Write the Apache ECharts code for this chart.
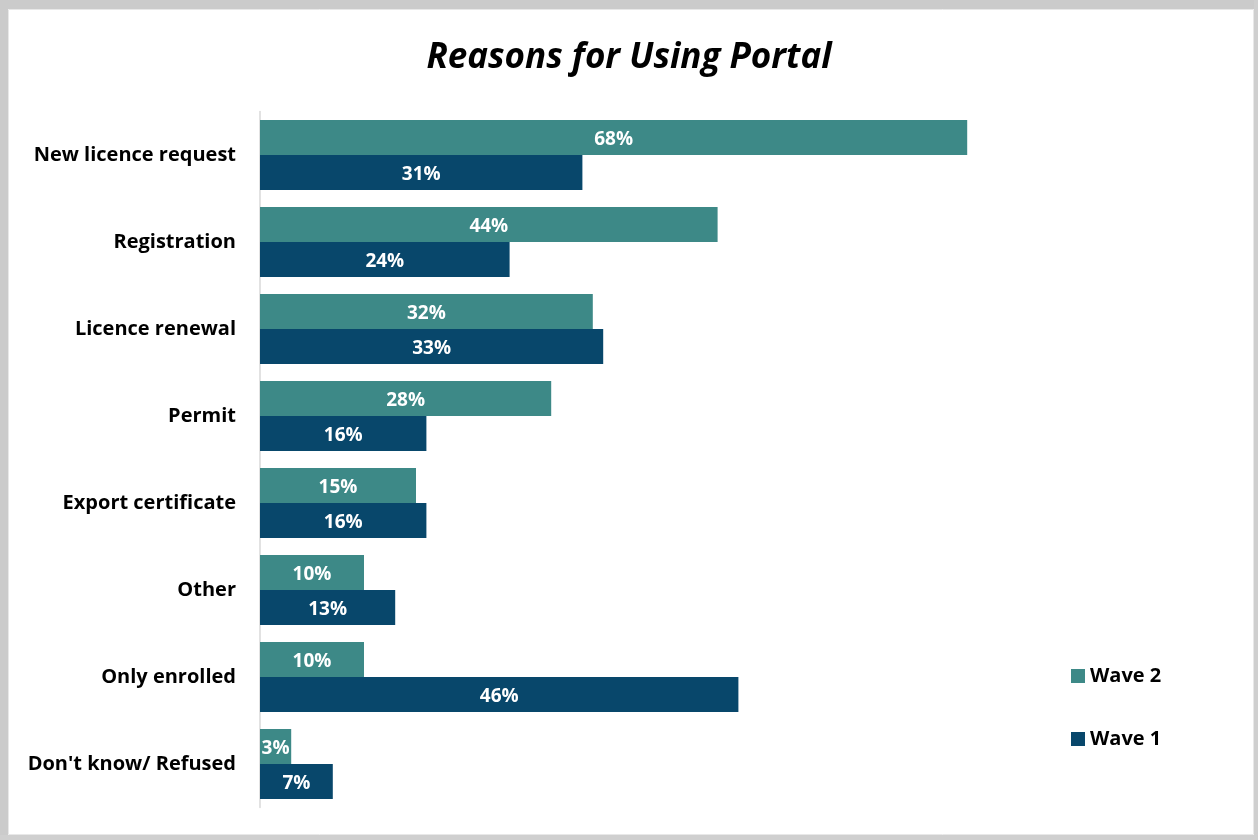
<!DOCTYPE html>
<html>
<head>
<meta charset="utf-8">
<script src="https://cdn.jsdelivr.net/npm/echarts@6/dist/echarts.min.js"></script>
<style>
  html, body { margin: 0; padding: 0; background: #ffffff; }
  #chart { width: 1258px; height: 840px; }
</style>
</head>
<body>
<div id="chart"></div>
<script>
// Reasons for using the portal, share of respondents (%) per survey wave
const categories = [
  'New licence request',
  'Registration',
  'Licence renewal',
  'Permit',
  'Export certificate',
  'Other',
  'Only enrolled',
  "Don't know/ Refused"
];
const wave2 = [68, 44, 32, 28, 15, 10, 10, 3];
const wave1 = [31, 24, 33, 16, 16, 13, 46, 7];
const seriesNames = ['Wave 2', 'Wave 1'];

const FONT = '"Open Sans"';
const chart = echarts.init(document.getElementById('chart'));

const labelStyle = {
  show: true,
  position: 'inside',
  offset: [0, 2],
  color: '#ffffff',
  fontFamily: FONT,
  fontWeight: 'bold',
  fontSize: 19,
  formatter: p => p.value + '%'
};

chart.setOption({
  backgroundColor: '#ffffff',
  animation: false,
  title: {
    text: 'Reasons for Using Portal',
    left: 'center',
    top: 36,
    textStyle: {
      fontFamily: FONT,
      fontStyle: 'italic',
      fontWeight: 'bold',
      fontSize: 35,
      color: '#000000'
    }
  },
  legend: {
    orient: 'vertical',
    left: 1066,
    top: 660,
    itemWidth: 14,
    itemHeight: 14,
    itemGap: 41,
    icon: 'rect',
    data: seriesNames,
    textStyle: {
      fontFamily: FONT,
      fontWeight: 'bold',
      fontSize: 20,
      lineHeight: 22,
      color: '#000000'
    }
  },
  grid: {
    left: 260,
    right: 218,
    top: 111.5,
    bottom: 32.5,
    containLabel: false
  },
  xAxis: {
    type: 'value',
    min: 0,
    max: 75,
    show: false,
    splitLine: { show: false }
  },
  yAxis: {
    type: 'category',
    inverse: true,
    data: categories,
    axisLine: { show: true, lineStyle: { color: '#d9d9d9', width: 1.5 } },
    axisTick: { show: false },
    axisLabel: {
      margin: 24,
      fontFamily: FONT,
      fontWeight: 'bold',
      fontSize: 20,
      color: '#000000'
    }
  },
  series: [
    {
      name: seriesNames[0],
      type: 'bar',
      data: wave2,
      barWidth: 35,
      barGap: '0%',
      itemStyle: { color: '#3d8987' },
      label: labelStyle
    },
    {
      name: seriesNames[1],
      type: 'bar',
      data: wave1,
      barWidth: 35,
      barGap: '0%',
      itemStyle: { color: '#08476b' },
      label: labelStyle
    }
  ],
  graphic: [
    // grey frame around the chart area
    { type: 'rect', silent: true, shape: { x: 0, y: 0, width: 1258, height: 9 }, style: { fill: '#cbcbcb' } },
    { type: 'rect', silent: true, shape: { x: 0, y: 0, width: 8, height: 840 }, style: { fill: '#cbcbcb' } },
    { type: 'rect', silent: true, shape: { x: 1254, y: 0, width: 4, height: 840 }, style: { fill: '#cfcfcf' } },
    { type: 'rect', silent: true, shape: { x: 0, y: 835, width: 1258, height: 5 }, style: { fill: '#cfcfcf' } },
    { type: 'rect', silent: true, shape: { x: 8.5, y: 9.5, width: 1245, height: 825 }, style: { fill: 'none', stroke: '#e8e8e8', lineWidth: 1 } }
  ]
});
</script>
</body>
</html>
